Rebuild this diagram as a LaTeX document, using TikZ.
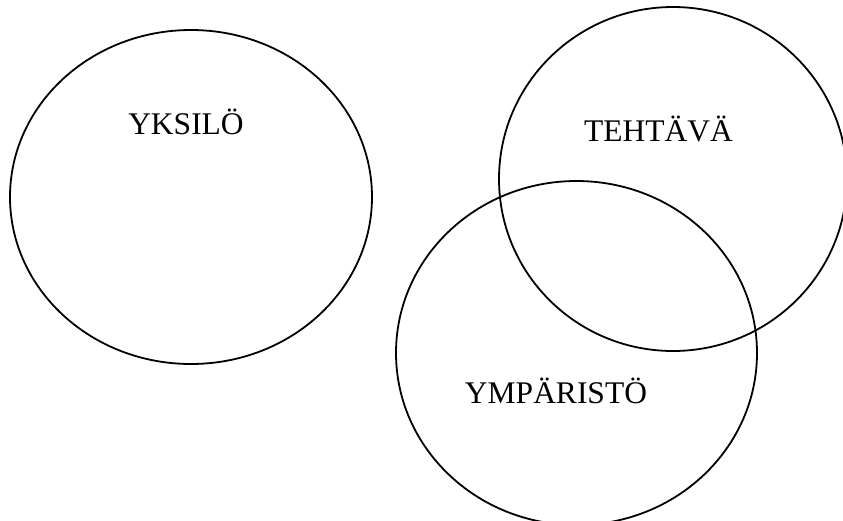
\documentclass[tikz,border=0pt]{standalone}
\usepackage{fontspec}
\setmainfont{Liberation Serif}
\begin{document}
\begin{tikzpicture}[x=1pt,y=-1pt,
  ring/.style={draw=black,line width=1.8pt},
  lbl/.style={anchor=base,inner sep=0pt,font=\fontsize{31.5}{36}\selectfont}]
\useasboundingbox (0,0) rectangle (843,520);
\begin{scope}
\clip (0,0) rectangle (843,520);
\draw[ring] (191,197) ellipse [x radius=181, y radius=167];
\draw[ring] (673,179) ellipse [x radius=174, y radius=172];
\draw[ring] (576.5,353) ellipse [x radius=180.5, y radius=172];
\end{scope}
\node[lbl] (yksilo) at (186,134) {YKSILÖ};
\node[lbl] (tehtava) at (658.5,141) {TEHTÄVÄ};
\node[lbl] (ymparisto) at (556,403) {YMPÄRISTÖ};
\end{tikzpicture}
\end{document}
